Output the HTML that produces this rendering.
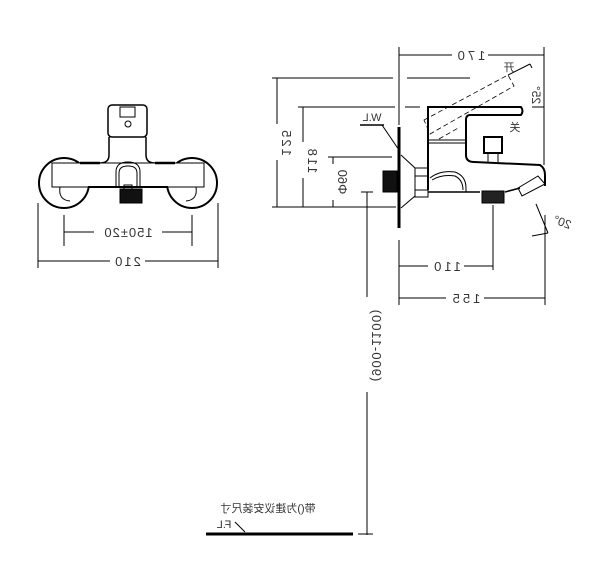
<!DOCTYPE html>
<html><head><meta charset="utf-8"><style>
html,body{margin:0;padding:0;background:#fff;}
svg{display:block;}
text{font-family:"Liberation Sans","Noto Sans CJK SC",sans-serif;fill:#333;}
</style></head><body>
<svg width="600" height="580" viewBox="0 0 600 580" xmlns="http://www.w3.org/2000/svg">
<g fill="none" stroke="#000" stroke-width="1">
<!-- LEFT VIEW -->
<rect x="108" y="105" width="39" height="32" rx="4" stroke-width="1.5"/>
<rect x="120" y="107" width="15" height="10"/>
<circle cx="128" cy="124" r="3"/>
<line x1="109" y1="137" x2="146" y2="137"/>
<path d="M109 137 L109 155 Q109 163 100 163 L80 163" stroke-width="1.5"/>
<path d="M146 137 L146 155 Q146 163 155 163 L175 163" stroke-width="1.5"/>
<circle cx="64" cy="183" r="25" stroke-width="2"/>
<circle cx="192" cy="183" r="25" stroke-width="2"/>
<rect x="52" y="163" width="152" height="24" fill="#fff"/>
<line x1="80" y1="163" x2="100" y2="163" stroke-width="2.5"/>
<line x1="155" y1="163" x2="175" y2="163" stroke-width="2.5"/>
<line x1="88" y1="187" x2="168" y2="187" stroke-width="2"/>
<path d="M60 187 Q58 200 70 201" />
<path d="M196 187 Q198 200 186 201"/>
<path d="M116 188 L116 172 Q116 162 128 162 Q140 162 140 172 L140 188"/>
<path d="M119 188 L119 173 Q119 166 128 166 Q137 166 137 173 L137 188"/>
<rect x="124" y="185" width="8" height="4"/>
<rect x="120" y="189" width="22" height="14" fill="#111"/>
<!-- dims left -->
<line x1="64" y1="232" x2="192" y2="232"/>
<line x1="64" y1="215" x2="64" y2="246"/>
<line x1="192" y1="215" x2="192" y2="246"/>
<line x1="38" y1="261" x2="218" y2="261"/>
<line x1="38" y1="203" x2="38" y2="268"/>
<line x1="218" y1="203" x2="218" y2="268"/>
<!-- RIGHT VIEW -->
<line x1="399" y1="55" x2="544" y2="55"/>
<line x1="399" y1="47" x2="399" y2="125"/>
<line x1="544" y1="47" x2="544" y2="165"/>
<line x1="277" y1="78" x2="277" y2="207"/>
<line x1="272" y1="78" x2="393" y2="78"/>
<line x1="407" y1="78" x2="470" y2="78"/>
<line x1="303" y1="107" x2="303" y2="207"/>
<line x1="298" y1="107" x2="395" y2="107"/>
<line x1="405" y1="107" x2="420" y2="107"/>
<line x1="333" y1="157" x2="333" y2="207"/>
<line x1="328" y1="157" x2="392" y2="157"/>
<line x1="272" y1="207" x2="396" y2="207"/>
<!-- W.L -->
<line x1="360" y1="125" x2="384" y2="125" stroke-width="1.5"/>
<line x1="382" y1="125" x2="399" y2="150"/>
<!-- wall -->
<line x1="399" y1="127" x2="399" y2="228" stroke-width="3"/>
<path d="M401 155 L415 168 L415 196 L401 208"/>
<rect x="415" y="168" width="13" height="29"/>
<line x1="415" y1="176" x2="428" y2="176"/>
<line x1="415" y1="190" x2="428" y2="190"/>
<rect x="383" y="171" width="14" height="21" fill="#111"/>
<!-- body -->
<path d="M428 190 L428 107 L521 107 Q524 111 521 115 L470 115 Q466 115 466 120 L466 155 Q466 162 474 162 L540 165 Q545 168 545 175 L545 186" stroke-width="2"/>
<path d="M428 192 L480 192 M505 192 L520 188" stroke-width="1.5"/>
<path d="M430 178 Q440 170 455 172 Q466 176 466 188 L466 192"/>
<path d="M432 180 Q442 174 455 176 Q463 180 463 190"/>
<line x1="428" y1="140" x2="467" y2="140"/>
<line x1="428" y1="143" x2="467" y2="143"/>
<rect x="484" y="137" width="18" height="16" stroke-width="2"/>
<line x1="488" y1="153" x2="488" y2="162"/>
<line x1="498" y1="153" x2="498" y2="162"/>
<path d="M518 188 L538 176 L545 184 L522 196 Z"/>
<rect x="482" y="191" width="22" height="12" fill="#222"/>
<!-- dashed open lever -->
<g stroke-dasharray="5,3" stroke-width="0.8">
<path d="M424 120 L508 75 L514 86 L430 134 Z"/>
<line x1="439" y1="139" x2="460" y2="127"/>
</g>
<line x1="508" y1="75" x2="530" y2="64"/>
<path d="M530 64 L532 68" />
<line x1="532" y1="107" x2="544" y2="107"/>
<!-- 20 deg -->
<line x1="536" y1="204" x2="548" y2="233"/>
<line x1="532" y1="236" x2="548" y2="233"/>
<!-- lower dims -->
<line x1="493" y1="205" x2="493" y2="270"/>
<line x1="399" y1="240" x2="399" y2="305"/>
<line x1="399" y1="266" x2="493" y2="266"/>
<line x1="399" y1="298" x2="545" y2="298"/>
<line x1="545" y1="215" x2="545" y2="305"/>
<!-- height -->
<line x1="367" y1="192" x2="367" y2="297"/>
<line x1="367" y1="392" x2="367" y2="535"/>
<line x1="361" y1="192" x2="373" y2="192"/>
<line x1="358" y1="534" x2="373" y2="534"/>
<line x1="206" y1="534" x2="353" y2="534" stroke-width="3"/>
<line x1="235" y1="522" x2="245" y2="532"/>
</g>
<!-- text backgrounds -->
<g fill="#fff">
<rect x="94" y="225" width="68" height="14"/>
<rect x="110" y="254" width="35" height="14"/>
<rect x="452" y="48" width="36" height="14"/>
<rect x="428" y="259" width="36" height="14"/>
<rect x="446" y="291" width="38" height="14"/>
<rect x="271" y="124" width="12" height="36"/>
<rect x="297" y="142" width="12" height="36"/>
<rect x="327" y="164" width="12" height="36"/>
</g>
<g font-size="13">
<text transform="translate(128,237) scale(-1,1)" text-anchor="middle" letter-spacing="1">150±20</text>
<text transform="translate(127,266) scale(-1,1)" text-anchor="middle" letter-spacing="2">210</text>
<text transform="translate(470,60) scale(-1,1)" text-anchor="middle" letter-spacing="3">170</text>
<text transform="translate(446,271) scale(-1,1)" text-anchor="middle" letter-spacing="3">110</text>
<text transform="translate(465,303) scale(-1,1)" text-anchor="middle" letter-spacing="3">155</text>
<text transform="translate(282,142) rotate(-90) scale(1,-1)" text-anchor="middle" letter-spacing="2">125</text>
<text transform="translate(308,160) rotate(-90) scale(1,-1)" text-anchor="middle" letter-spacing="2">118</text>
<text transform="translate(338,182) rotate(-90) scale(1,-1)" text-anchor="middle">Φ60</text>
<text transform="translate(372,345) rotate(-90) scale(1,-1)" text-anchor="middle" letter-spacing="1">(900-1100)</text>
<text transform="translate(372,121) scale(-1,1)" text-anchor="middle" font-size="11">W.L</text>
<text transform="translate(509,71) scale(-1,1)" text-anchor="middle" font-size="11">开</text>
<text transform="translate(515,131) scale(-1,1)" text-anchor="middle" font-size="11">关</text>
<text transform="translate(532,95) rotate(90) scale(-1,1)" text-anchor="middle" font-size="12">25°</text>
<text transform="translate(561,226) rotate(20) scale(-1,1)" text-anchor="middle" font-size="12">20°</text>
<text transform="translate(268,512) scale(-1,1)" text-anchor="middle" font-size="11">带()为建议安装尺寸</text>
<text transform="translate(224,528) scale(-1,1)" text-anchor="middle" font-size="11">F.L</text>
</g>
</svg>
</body></html>
